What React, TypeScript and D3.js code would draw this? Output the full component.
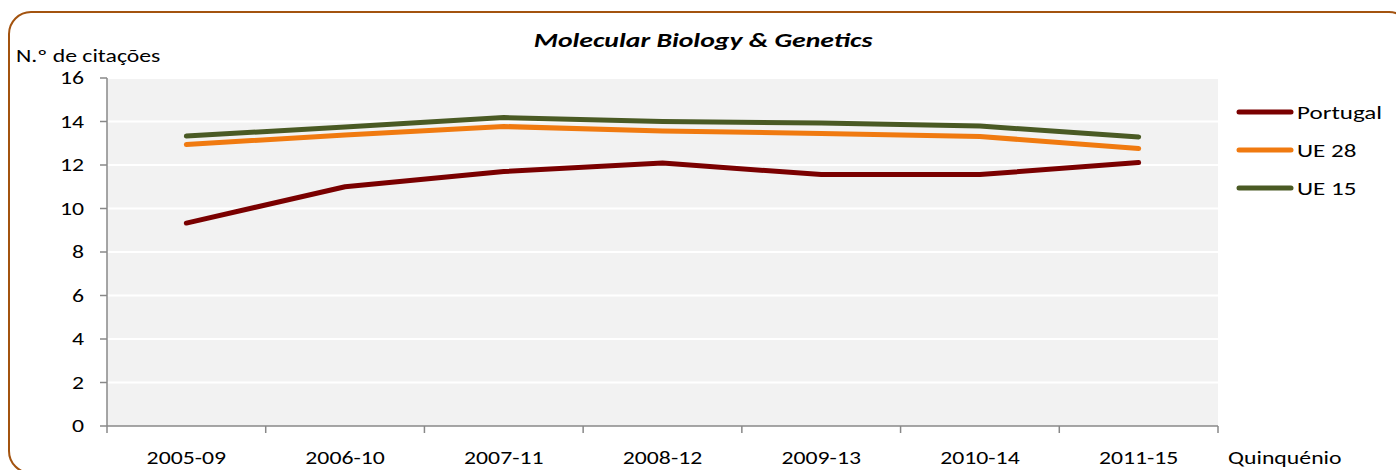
import React from "react";
import * as d3 from "d3";

const categories = ["2005-09", "2006-10", "2007-11", "2008-12", "2009-13", "2010-14", "2011-15"];
const portugal = [9.33, 11.0, 11.7, 12.09, 11.56, 11.56, 12.11];
const ue28 = [12.94, 13.38, 13.77, 13.56, 13.45, 13.31, 12.76];
const ue15 = [13.33, 13.75, 14.18, 14.0, 13.93, 13.79, 13.29];
const yTicks = [0, 2, 4, 6, 8, 10, 12, 14, 16];
const seriesNames = ["Portugal", "UE 28", "UE 15"];
const seriesColors = ["#7A0000", "#F07A10", "#4A5A24"];

const W = 1396, H = 470;
const left = 107, right = 1218, top = 78, bottom = 426;
const font = "Carlito, Calibri, Lato, 'Open Sans', sans-serif";
const SX = 1.32;

function T(props: { x: number; y: number; anchor?: string; size?: number; dy?: string; bold?: boolean; italic?: boolean; children: React.ReactNode }) {
  const { x, y, anchor = "start", size = 18, dy, bold, italic, children } = props;
  return (
    <text
      transform={`translate(${x},${y}) scale(${SX},1)`}
      textAnchor={anchor}
      dy={dy}
      fontSize={size}
      fontWeight={bold ? "bold" : "normal"}
      fontStyle={italic ? "italic" : "normal"}
      fill="#000"
    >
      {children}
    </text>
  );
}

export default function App() {
  const x = d3.scaleBand<string>().domain(categories).range([left, right]);
  const y = d3.scaleLinear().domain([0, 16]).range([bottom, top]);
  const line = d3.line<number>().x((_, i) => (x(categories[i]) as number) + x.bandwidth() / 2).y((d) => y(d));
  const series = [portugal, ue28, ue15];
  const tickXs = categories.map((c) => x(c) as number).concat([right]);

  return (
    <svg width={W} height={H} style={{ position: "absolute", left: 0, top: 0 }} fontFamily={font}>
      <rect x={0} y={0} width={W} height={H} fill="#fff" />
      <rect x={9} y={12} width={1402} height={461} rx={22} ry={22} fill="none" stroke="#A3530F" strokeWidth={2} />
      <rect x={left} y={top} width={right - left} height={bottom - top} fill="#F2F2F2" />
      {yTicks.filter((t) => t > 0).map((t) => (
        <line key={t} x1={left} x2={right} y1={y(t)} y2={y(t)} stroke="#fff" strokeWidth={2} />
      ))}
      <line x1={left} x2={left} y1={top} y2={bottom} stroke="#888" strokeWidth={1.5} />
      <line x1={left} x2={right} y1={bottom} y2={bottom} stroke="#888" strokeWidth={1.5} />
      {yTicks.map((t) => (
        <g key={t}>
          <line x1={100} x2={left} y1={y(t)} y2={y(t)} stroke="#888" strokeWidth={1.5} />
          <T x={84} y={y(t)} dy="0.36em" anchor="end">{t}</T>
        </g>
      ))}
      {tickXs.map((tx, i) => (
        <line key={i} x1={tx} x2={tx} y1={bottom} y2={bottom + 7} stroke="#888" strokeWidth={1.5} />
      ))}
      {categories.map((c) => (
        <T key={c} x={(x(c) as number) + x.bandwidth() / 2} y={464} anchor="middle">{c}</T>
      ))}
      <T x={1228} y={464}>Quinquénio</T>
      <T x={16} y={62}>N.º de citações</T>
      <T x={703} y={47} anchor="middle" size={21} bold italic>Molecular Biology &amp; Genetics</T>
      {series.map((s, i) => (
        <path key={i} d={line(s) as string} fill="none" stroke={seriesColors[i]} strokeWidth={5} strokeLinecap="round" strokeLinejoin="round" />
      ))}
      {seriesNames.map((n, i) => (
        <g key={n}>
          <line x1={1239} x2={1291} y1={112 + i * 38} y2={112 + i * 38} stroke={seriesColors[i]} strokeWidth={5} strokeLinecap="round" />
          <T x={1297} y={112 + i * 38} dy="0.36em" size={19}>{n}</T>
        </g>
      ))}
    </svg>
  );
}
